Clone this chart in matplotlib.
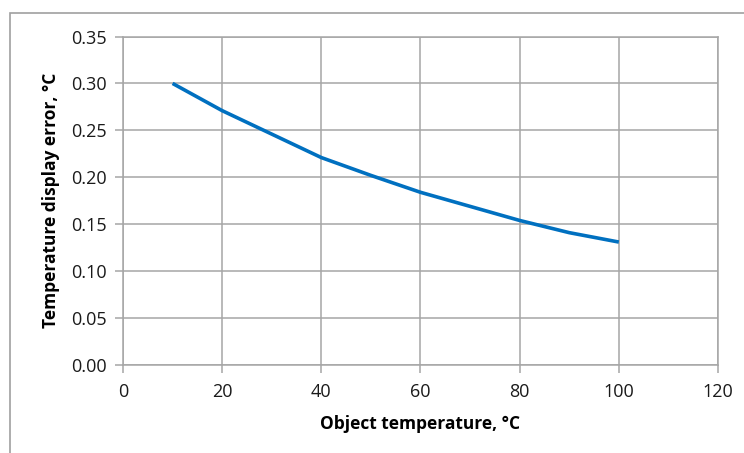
import matplotlib.pyplot as plt
from matplotlib.patches import Rectangle

temps = [10, 20, 30, 40, 50, 60, 70, 80, 90, 100]
errors = [0.300, 0.271, 0.246, 0.221, 0.202, 0.184, 0.169, 0.154, 0.141, 0.131]

xticks = [0, 20, 40, 60, 80, 100, 120]
yticks = [0.00, 0.05, 0.10, 0.15, 0.20, 0.25, 0.30, 0.35]

plt.rcParams['font.family'] = ['Open Sans', 'DejaVu Sans']

W, H = 744, 453
fig = plt.figure(figsize=(W / 100, H / 100), dpi=100)
ax = fig.add_axes([123 / W, 1 - 365 / H, (718 - 123) / W, (365 - 36.5) / H])

grid = '#a6a6a6'
ax.plot(temps, errors, color='#0070c0', linewidth=2.6, solid_capstyle='butt')
ax.set_xlim(0, 120)
ax.set_ylim(0, 0.35)
ax.set_xticks(xticks)
ax.set_yticks(yticks)
ax.set_yticklabels(['%.2f' % v for v in yticks])
ax.grid(True, color=grid, linewidth=1.1)
ax.set_axisbelow(True)
for s in ax.spines.values():
    s.set_color(grid)
    s.set_linewidth(1.1)
ax.tick_params(direction='out', length=6, width=1.1, color=grid,
               labelsize=13, labelcolor='#1a1a1a')
ax.tick_params(axis='x', pad=7)
ax.tick_params(axis='y', pad=6)

ax.set_xlabel('Object temperature, °C', fontsize=12.5, fontweight='bold', labelpad=10)
ax.set_ylabel('Temperature display error, °C', fontsize=12.5, fontweight='bold', labelpad=8)

fig.patches.append(Rectangle((10 / W, -0.1), 1.2, 1 - 13 / H + 0.1,
                             transform=fig.transFigure, fill=False,
                             edgecolor='#a0a0a0', linewidth=1.2))

fig.savefig('out.png', dpi=100)
